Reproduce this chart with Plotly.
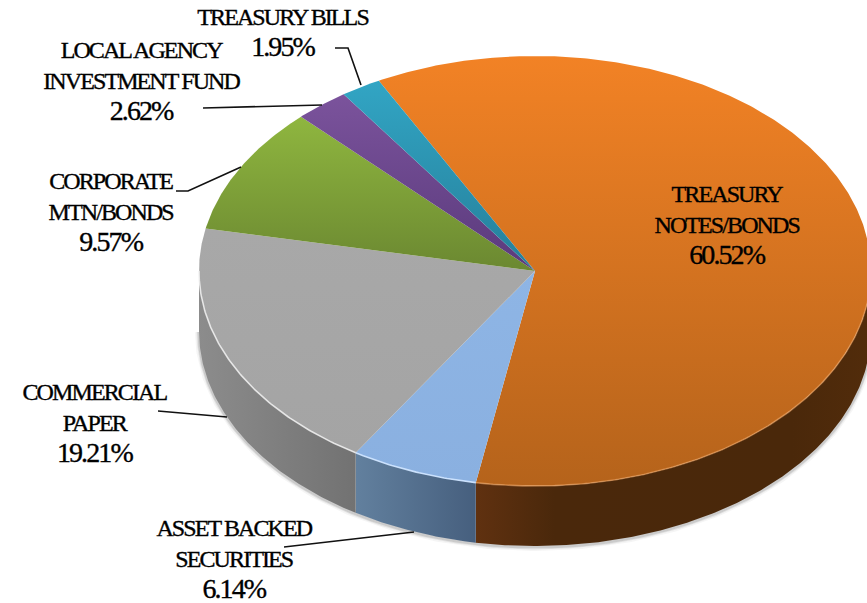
import numpy as np
import plotly.graph_objects as go

# Portfolio allocation, clockwise from the treasury notes slice
categories = ["TREASURY<br>NOTES/BONDS", "ASSET BACKED<br>SECURITIES", "COMMERCIAL<br>PAPER",
              "CORPORATE<br>MTN/BONDS", "LOCAL AGENCY<br>INVESTMENT FUND", "TREASURY BILLS"]
values = [60.52, 6.14, 19.21, 9.57, 2.62, 1.95]

# Top-face gradient (upper, lower), wall gradient stops (left to right), rim highlight
top_colors = [("#F28225", "#B5631B"), ("#8EB5E5", "#8AB0E0"), ("#A8A8A8", "#A4A4A4"),
              ("#8FB63F", "#6B8831"), ("#7B539C", "#5A3A7C"), ("#32A5C4", "#257F9A")]
wall_colors = [[[0, "#603110"], [0.2, "#4A280B"], [0.8, "#4A280A"], [1, "#522C0B"]],
               [[0, "#62809E"], [1, "#465F7E"]],
               [[0, "#8C8C8C"], [1, "#727272"]],
               [[0, "#556B25"], [1, "#556B25"]],
               [[0, "#4A2F66"], [1, "#4A2F66"]],
               [[0, "#1F7088"], [1, "#1F7088"]]]
rim_colors = ["rgba(240,165,100,0.55)", "rgba(205,228,255,0.95)", "rgba(240,240,240,0.85)",
              "rgba(0,0,0,0)", "rgba(0,0,0,0)", "rgba(0,0,0,0)"]

# Label centres and leader polylines in canvas units
label_pos = [(726, 225), (234, 559), (94, 423), (110, 212), (141, 81), (282, 33)]
leaders = [None,
           [(284, 547), (414, 532)],
           [(158, 411), (227, 417)],
           [(176, 191), (188, 191), (241, 167)],
           [(203, 108), (322, 105)],
           [(335, 48), (348, 48), (361, 85)]]

# Projected pie geometry
CX, CY, RX, RY, DEPTH = 535, 271, 336, 215, 60
START_DEG = 332.3
STEP_DEG = 0.5


def rim(a0, a1, dy=0.0):
    """Points on the projected rim between two clockwise-from-top angles."""
    n = max(2, int(abs(a1 - a0) / STEP_DEG) + 1)
    t = np.radians(np.linspace(a0, a1, n))
    return CX + RX * np.sin(t), CY - RY * np.cos(t) + dy


total = sum(values)
spans = [v / total * 360 for v in values]
edges = START_DEG + np.concatenate([[0], np.cumsum(spans)])

fig = go.Figure()
no_line = dict(width=0)

# Soft contact shadow under the front wall
sx, sy = rim(90, 270, DEPTH + 1)
for width, alpha in [(8, 0.05), (5, 0.09), (3, 0.14)]:
    fig.add_trace(go.Scatter(x=sx, y=sy, mode="lines", hoverinfo="skip",
                             line=dict(color=f"rgba(60,60,60,{alpha})", width=width)))

# Front walls: only the part of each slice between 90 and 270 degrees shows
for i in range(len(values)):
    a0, a1 = edges[i], edges[i + 1]
    for shift in (0, 360, -360):
        lo, hi = max(a0 + shift, 90), min(a1 + shift, 270)
        if lo < hi:
            ux, uy = rim(lo, hi)
            lx, ly = rim(hi, lo, DEPTH)
            fig.add_trace(go.Scatter(
                x=np.r_[ux, lx], y=np.r_[uy, ly], mode="lines", fill="toself",
                line=no_line, hoverinfo="skip",
                fillgradient=dict(type="horizontal", colorscale=wall_colors[i])))

# Top faces; the y axis runs downward, so the lower colour takes the scale's start
for i in range(len(values)):
    ax, ay = rim(edges[i], edges[i + 1])
    upper, lower = top_colors[i]
    fig.add_trace(go.Scatter(
        x=np.r_[CX, ax, CX], y=np.r_[CY, ay, CY], mode="lines", fill="toself",
        line=no_line, hoverinfo="skip",
        fillgradient=dict(type="vertical", colorscale=[[0, lower], [1, upper]])))

# Bevel highlight where the top face meets the wall
for i in range(len(values)):
    a0, a1 = edges[i], edges[i + 1]
    for shift in (0, 360, -360):
        lo, hi = max(a0 + shift, 90), min(a1 + shift, 270)
        if lo < hi:
            hx, hy = rim(lo, hi)
            fig.add_trace(go.Scatter(x=hx, y=hy, mode="lines", hoverinfo="skip",
                                     line=dict(color=rim_colors[i], width=1.6)))

# Leader lines
for path in leaders:
    if path:
        fig.add_shape(type="path", xref="x", yref="y",
                      path="M" + " L".join(f"{x},{y}" for x, y in path),
                      line=dict(color="#111111", width=1.6))

# Category labels with their shares
for name, value, (x, y) in zip(categories, values, label_pos):
    fig.add_annotation(x=x, y=y, xref="x", yref="y", showarrow=False, align="center",
                       text=f'{name}<br><span style="font-size:28px">{value:.2f}%</span>',
                       font=dict(family="Liberation Serif", size=24, color="#000000"))

fig.update_layout(
    width=867, height=603, margin=dict(l=0, r=0, t=0, b=0), showlegend=False,
    paper_bgcolor="#FFFFFF", plot_bgcolor="#FFFFFF",
    xaxis=dict(range=[0, 867], visible=False, fixedrange=True),
    yaxis=dict(range=[603, 0], visible=False, fixedrange=True),
)

# Tighter tracking and a slight weight gain for the condensed label setting
tracking = ("document.querySelectorAll('.annotation-text').forEach(function(t){"
            "t.style.letterSpacing='-1.9px';t.style.stroke='#000';t.style.strokeWidth='0.35px';});")
fig.write_html("out.html", config={"displayModeBar": False}, post_script=tracking)
